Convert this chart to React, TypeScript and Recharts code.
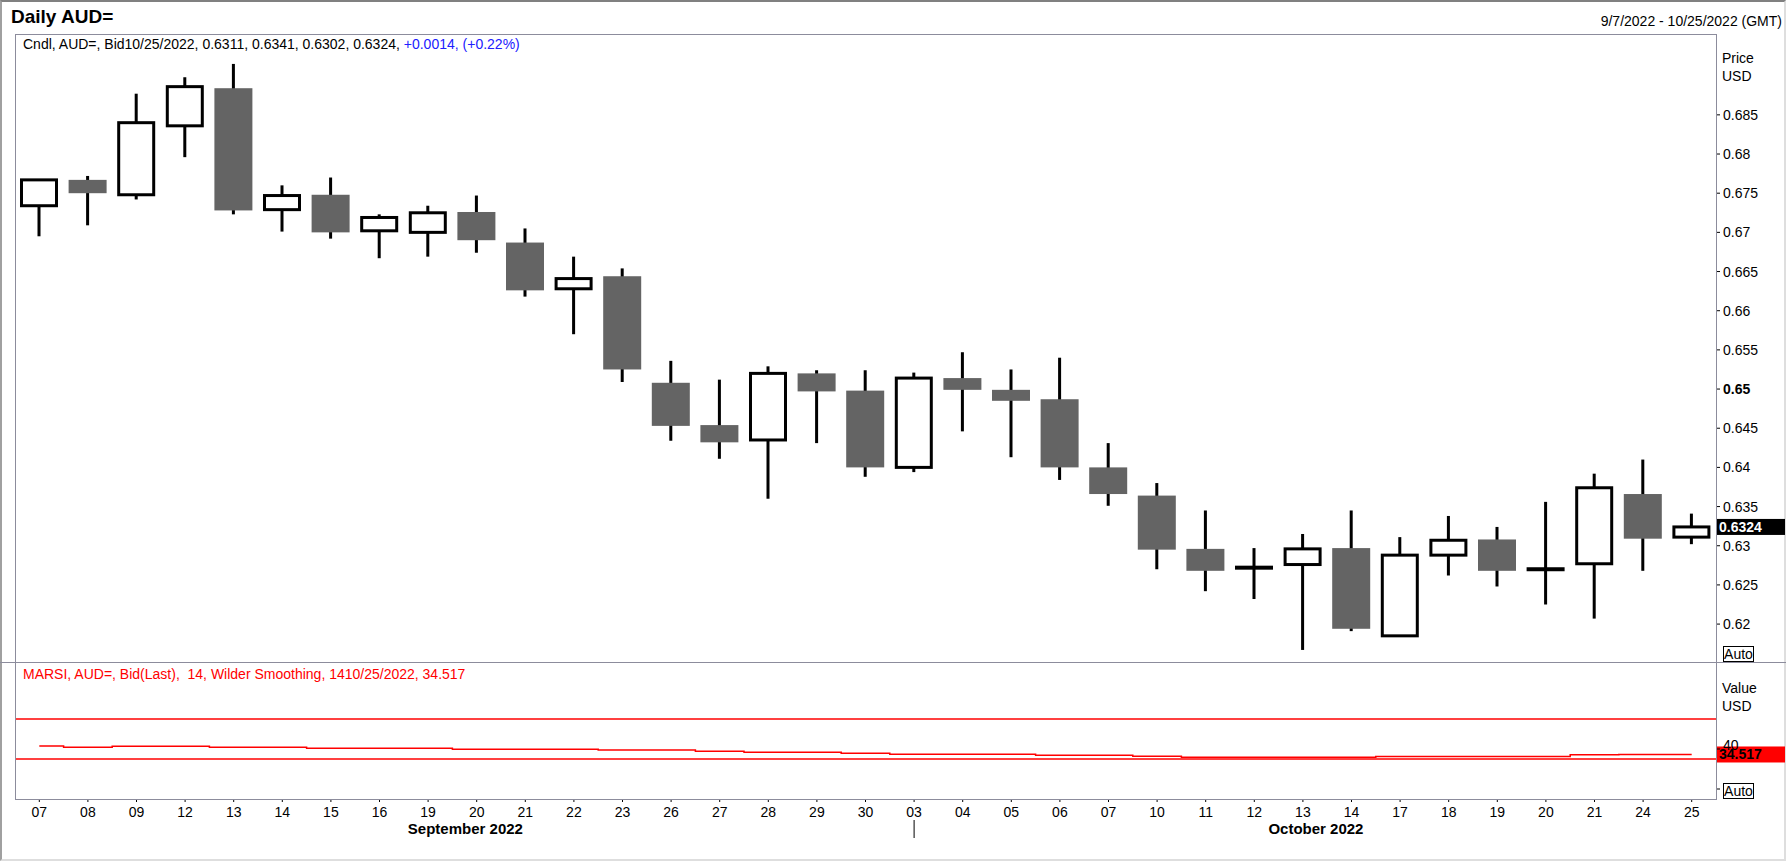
import React from "react";
import {
  Bar,
  ComposedChart,
  Line,
  ReferenceLine,
  XAxis,
  YAxis,
} from "recharts";

const days = [
  "07", "08", "09", "12", "13", "14", "15", "16", "19", "20", "21", "22",
  "23", "26", "27", "28", "29", "30", "03", "04", "05", "06", "07", "10",
  "11", "12", "13", "14", "17", "18", "19", "20", "21", "24", "25",
];

const opens = [
  0.6734, 0.6767, 0.6748, 0.6836, 0.6884, 0.6729, 0.6748, 0.6702, 0.67,
  0.6726, 0.6687, 0.6628, 0.6644, 0.6508, 0.6454, 0.6435, 0.652, 0.6498,
  0.64, 0.6514, 0.6499, 0.6487, 0.64, 0.6364, 0.6296, 0.6272, 0.6276,
  0.6297, 0.6185, 0.6288, 0.6308, 0.627, 0.6277, 0.6366, 0.6311,
];
const highs = [
  0.6768, 0.6772, 0.6877, 0.6898, 0.6915, 0.676, 0.677, 0.6723, 0.6734,
  0.6747, 0.6705, 0.6669, 0.6654, 0.6536, 0.6512, 0.6529, 0.6524, 0.6524,
  0.6521, 0.6547, 0.6525, 0.654, 0.6431, 0.638, 0.6345, 0.6297, 0.6315,
  0.6345, 0.6311, 0.6338, 0.6324, 0.6356, 0.6392, 0.641, 0.6341,
];
const lows = [
  0.6695, 0.6709, 0.6742, 0.6796, 0.6723, 0.6701, 0.6692, 0.6667, 0.6669,
  0.6674, 0.6618, 0.657, 0.6509, 0.6434, 0.6411, 0.636, 0.6431, 0.6388,
  0.6394, 0.6446, 0.6413, 0.6384, 0.6351, 0.627, 0.6242, 0.6232, 0.6167,
  0.6191, 0.6184, 0.6262, 0.6248, 0.6225, 0.6207, 0.6268, 0.6302,
];
const closes = [
  0.6767, 0.675, 0.684, 0.6886, 0.6728, 0.6747, 0.67, 0.6719, 0.6725,
  0.669, 0.6626, 0.6641, 0.6525, 0.6453, 0.6432, 0.652, 0.6497, 0.64,
  0.6514, 0.6499, 0.6485, 0.64, 0.6366, 0.6295, 0.6268, 0.6272, 0.6296,
  0.6194, 0.6288, 0.6307, 0.6268, 0.627, 0.6374, 0.6309, 0.6324,
];
const rsiValues = [
  43.0, 41.7, 42.7, 42.7, 41.7, 41.7, 40.7, 40.7, 40.7, 39.7, 39.7, 39.7,
  39.0, 39.0, 37.7, 36.7, 36.7, 35.7, 34.7, 34.7, 34.7, 33.7, 33.7, 32.7,
  31.7, 31.7, 31.7, 31.7, 32.5, 32.5, 32.5, 32.5, 34.3, 34.4, 34.517,
];

const priceTicks = [
  0.62, 0.625, 0.63, 0.635, 0.64, 0.645, 0.65, 0.655, 0.66, 0.665, 0.67,
  0.675, 0.68, 0.685,
];
const rsiTicks = [0, 40];
const rsiBands = [70, 30];
const monthNames = ["September 2022", "October 2022"];
const monthStarts = [0, 18];

const data = days.map((day, i) => ({
  day,
  idx: i,
  open: opens[i],
  high: highs[i],
  low: lows[i],
  close: closes[i],
  range: [lows[i], highs[i]],
  rsi: rsiValues[i],
}));

const W = 1788;
const PLOT_L = 15;
const PLOT_R = 1716;
const AXIS_W = W - PLOT_R;
const BAND = (PLOT_R - PLOT_L) / days.length;
const FONT = "'Liberation Sans', Arial, sans-serif";
const FRAME = "#8c8c9c";

function Candle(props: any) {
  const { x, y, width, height, payload } = props;
  if (!payload || !Number.isFinite(y)) return <g />;
  const { open, high, low, close } = payload;
  const span = high - low;
  const toY = (v: number) => (span > 0 ? y + ((high - v) / span) * height : y);
  const cx = x + width / 2;
  const top = toY(Math.max(open, close));
  const bot = toY(Math.min(open, close));
  const doji = Math.abs(close - open) < 0.00015;
  let body;
  if (doji) {
    body = <rect x={x} y={toY(close) - 2} width={width} height={4} fill="#000" />;
  } else if (close > open) {
    body = (
      <rect
        x={x + 1.5}
        y={top}
        width={width - 3}
        height={Math.max(bot - top, 1)}
        fill="#fff"
        stroke="#000"
        strokeWidth={3}
      />
    );
  } else {
    body = <rect x={x} y={top} width={width} height={bot - top} fill="#646464" />;
  }
  return (
    <g>
      <rect x={cx - 1.5} y={y} width={3} height={height} fill="#000" />
      {body}
    </g>
  );
}

function PriceTick(props: any) {
  const { x, y, payload } = props;
  const v = payload.value;
  return (
    <text
      x={x}
      y={y}
      dy={5}
      fontSize={14}
      fontFamily={FONT}
      fontWeight={v === 0.65 ? "bold" : "normal"}
      fill="#000"
      textAnchor="start"
    >
      {String(Number(v.toFixed(3)))}
    </text>
  );
}

function RsiTick(props: any) {
  const { x, y, payload } = props;
  if (payload.value === 0) return <g />;
  return (
    <text x={x} y={y} dy={1} fontSize={14} fontFamily={FONT} fill="#000">
      {payload.value}
    </text>
  );
}

function DayTick(props: any) {
  const { x, y, payload } = props;
  const index = props.index ?? payload.index;
  const m = monthStarts.indexOf(index);
  let month = null;
  if (m >= 0) {
    const end = m + 1 < monthStarts.length ? monthStarts[m + 1] : days.length;
    const mx = x + ((end - 1 - index) / 2) * BAND + 13;
    month = (
      <g>
        <text
          x={mx}
          y={y}
          dy={30}
          textAnchor="middle"
          fontSize={15}
          fontWeight="bold"
          fontFamily={FONT}
          fill="#000"
        >
          {monthNames[m]}
        </text>
        {index > 0 && (
          <line x1={x} x2={x} y1={y + 16} y2={y + 34} stroke="#000" strokeWidth={1} />
        )}
      </g>
    );
  }
  return (
    <g>
      <text
        x={x}
        y={y}
        dy={13}
        textAnchor="middle"
        fontSize={14}
        fontFamily={FONT}
        fill="#000"
      >
        {days[index] ?? payload.value}
      </text>
      {month}
    </g>
  );
}

function Tag(props: any) {
  const { viewBox, text, bg, color } = props;
  const x0 = viewBox.x + viewBox.width + 1;
  return (
    <g>
      <rect x={x0} y={viewBox.y - 8} width={68} height={16} fill={bg} />
      <text
        x={x0 + 2}
        y={viewBox.y}
        dy={5}
        fontSize={14}
        fontWeight="bold"
        fontFamily={FONT}
        fill={color}
      >
        {text}
      </text>
    </g>
  );
}

const abs = (left: number, top: number, extra: React.CSSProperties = {}) =>
  ({ position: "absolute", left, top, fontFamily: FONT, whiteSpace: "nowrap", ...extra }) as React.CSSProperties;

export default function App() {
  const last = data.length - 1;
  return (
    <div
      style={{
        position: "absolute",
        left: 0,
        top: 0,
        width: W,
        height: 862,
        background: "#fff",
        overflow: "hidden",
      }}
    >
      <div
        style={{
          position: "absolute",
          left: 0,
          top: 0,
          width: W - 2,
          height: 861,
          boxSizing: "border-box",
          borderTop: "2px solid #808080",
          borderLeft: "2px solid #a0a0a0",
          borderRight: "2px solid #dedede",
          borderBottom: "2px solid #dedede",
        }}
      />
      <div style={abs(11, 6.5, { fontSize: 19, lineHeight: "19px", fontWeight: "bold" })}>
        Daily AUD=
      </div>
      <div style={{ ...abs(0, 14, { fontSize: 14, lineHeight: "14px" }), left: undefined, right: 6 }}>
        9/7/2022 - 10/25/2022 (GMT)
      </div>
      <div style={abs(23, 36.5, { fontSize: 14, lineHeight: "14px" })}>
        Cndl, AUD=, Bid10/25/2022, 0.6311, 0.6341, 0.6302, 0.6324,{" "}
        <span style={{ color: "#2020ff" }}>+0.0014, (+0.22%)</span>
      </div>
      <div style={abs(23, 666.5, { fontSize: 14, lineHeight: "14px", color: "#ff0000" })}>
        MARSI, AUD=, Bid(Last),&nbsp; 14, Wilder Smoothing, 1410/25/2022, 34.517
      </div>
      <div style={abs(1722, 51, { fontSize: 14, lineHeight: "14px" })}>Price</div>
      <div style={abs(1722, 69, { fontSize: 14, lineHeight: "14px" })}>USD</div>
      <div style={abs(1722, 681, { fontSize: 14, lineHeight: "14px" })}>Value</div>
      <div style={abs(1722, 699, { fontSize: 14, lineHeight: "14px" })}>USD</div>
      {[646, 783].map((t) => (
        <div
          key={t}
          style={abs(1723, t, {
            width: 31,
            height: 16,
            boxSizing: "border-box",
            border: "1px solid #000",
            fontSize: 14,
            lineHeight: "14px",
            textAlign: "center",
            overflow: "hidden",
          })}
        >
          Auto
        </div>
      ))}

      <div style={{ position: "absolute", left: 0, top: 0 }}>
        <ComposedChart
          width={W}
          height={662}
          data={data}
          barCategoryGap={0}
          margin={{ top: 34, right: 0, bottom: 0, left: PLOT_L }}
        >
          <XAxis dataKey="day" hide />
          <YAxis
            orientation="right"
            width={AXIS_W}
            domain={[0.61516, 0.69532]}
            ticks={priceTicks}
            allowDataOverflow
            axisLine={false}
            tickSize={4}
            tickMargin={3}
            tickLine={{ stroke: "#000" }}
            tick={<PriceTick />}
            interval={0}
          />
          <Bar
            dataKey="range"
            barSize={38}
            isAnimationActive={false}
            shape={(p: any) => <Candle {...p} />}
          />
          <ReferenceLine
            y={closes[last]}
            stroke="none"
            label={(p: any) => (
              <Tag viewBox={p.viewBox} text={closes[last].toFixed(4)} bg="#000" color="#fff" />
            )}
          />
        </ComposedChart>
      </div>

      <div style={{ position: "absolute", left: 0, top: 662 }}>
        <ComposedChart
          width={W}
          height={200}
          data={data}
          margin={{ top: 0, right: 0, bottom: 0, left: PLOT_L }}
        >
          <XAxis
            dataKey="idx"
            type="category"
            height={63}
            interval={0}
            padding={{ left: BAND / 2, right: BAND / 2 }}
            axisLine={false}
            tickSize={3}
            tickMargin={2}
            tickLine={{ stroke: "#000" }}
            tick={<DayTick />}
          />
          <YAxis
            orientation="right"
            width={AXIS_W}
            domain={[-10, 127]}
            ticks={rsiTicks}
            allowDataOverflow
            axisLine={false}
            tickSize={4}
            tickMargin={3}
            tickLine={{ stroke: "#000" }}
            tick={<RsiTick />}
          />
          {rsiBands.map((b) => (
            <ReferenceLine key={b} y={b} stroke="#ff0000" strokeWidth={1.5} />
          ))}
          <Line
            dataKey="rsi"
            type="step"
            stroke="#ff0000"
            strokeWidth={1.5}
            dot={false}
            isAnimationActive={false}
          />
          <ReferenceLine
            y={rsiValues[last]}
            stroke="none"
            label={(p: any) => (
              <Tag viewBox={p.viewBox} text={rsiValues[last].toFixed(3)} bg="#ff0000" color="#000" />
            )}
          />
        </ComposedChart>
      </div>

      <div
        style={{
          position: "absolute",
          left: PLOT_L,
          top: 34,
          width: PLOT_R - PLOT_L + 1,
          height: 799 - 34 + 1,
          boxSizing: "border-box",
          border: `1px solid ${FRAME}`,
          pointerEvents: "none",
        }}
      />
      <div
        style={{
          position: "absolute",
          left: 0,
          top: 662,
          width: W - 2,
          height: 1,
          background: FRAME,
          pointerEvents: "none",
        }}
      />
    </div>
  );
}
